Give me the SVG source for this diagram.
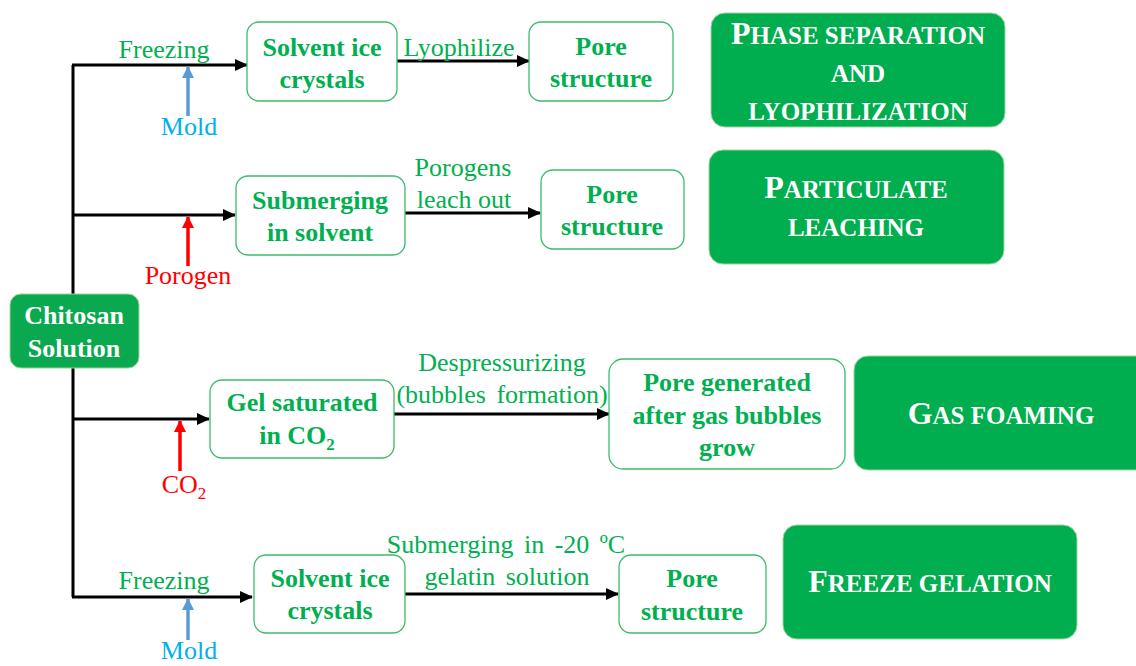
<svg xmlns="http://www.w3.org/2000/svg" width="1136" height="666" viewBox="0 0 1136 666">
<defs>
<marker id="ah" markerUnits="userSpaceOnUse" markerWidth="14" markerHeight="12" refX="12" refY="6" orient="auto"><path d="M0,0 L13,6 L0,12 z" fill="#000"/></marker>
<marker id="ahb" markerUnits="userSpaceOnUse" markerWidth="12" markerHeight="14" refX="11" refY="6" orient="auto"><path d="M0,0 L12,6 L0,12 z" fill="#5b9bd5"/></marker>
<marker id="ahr" markerUnits="userSpaceOnUse" markerWidth="12" markerHeight="14" refX="11" refY="6" orient="auto"><path d="M0,0 L12,6 L0,12 z" fill="#ff0000"/></marker>
</defs>
<style>
text{font-family:"Liberation Serif","Times New Roman",serif;}
.box{fill:#fff;stroke:#3dbb6c;stroke-width:1.3;}
.fbox{fill:#00ad4f;stroke:#9fd39a;stroke-width:1;}
.bt{font-size:26px;font-weight:bold;fill:#00b050;text-anchor:middle;}
.wt{font-size:26px;font-weight:bold;fill:#fff;text-anchor:middle;}
.sc{font-size:25px;font-weight:bold;fill:#fff;text-anchor:middle;}
.big{font-size:32px;}
.lab{font-size:26px;fill:#00b050;text-anchor:middle;}
.mold{font-size:26px;fill:#00b0f0;text-anchor:middle;}
.red{font-size:26px;fill:#ff0000;text-anchor:middle;}
.ws{word-spacing:4px;}
.ln{stroke:#000;stroke-width:3;fill:none;}
.ar{stroke:#000;stroke-width:3;fill:none;marker-end:url(#ah);}
.ab{stroke:#5b9bd5;stroke-width:3.5;fill:none;marker-end:url(#ahb);}
.arr{stroke:#ff0000;stroke-width:3.5;fill:none;marker-end:url(#ahr);}
</style>
<g id="connectors">
<path class="ln" d="M73,65 L73,597"/>
<path class="ar" d="M72,65 L247,65"/>
<path class="ar" d="M72,215 L235,215"/>
<path class="ar" d="M72,419 L209,419"/>
<path class="ar" d="M72,597 L252,597"/>
<path class="ar" d="M397,61 L529,61"/>
<path class="ar" d="M405,213 L540,213"/>
<path class="ar" d="M394,414 L609,414"/>
<path class="ar" d="M405,594 L618,594"/>
<path class="ab" d="M188,116 L188,67"/>
<path class="arr" d="M188,266 L188,217"/>
<path class="arr" d="M180,471 L180,421"/>
<path class="ab" d="M188,640 L188,599"/>
<text class="lab" x="164" y="58">Freezing</text>
<text class="mold" x="189" y="135">Mold</text>
<text class="lab" x="459" y="56">Lyophilize</text>
<text class="red" x="188" y="284">Porogen</text>
<text class="lab" x="463" y="176">Porogens</text>
<text class="lab" x="464" y="208">leach out</text>
<text class="red" x="184" y="493">CO<tspan font-size="17" dy="6">2</tspan></text>
<text class="lab" x="502" y="371">Despressurizing</text>
<text class="lab ws" x="502" y="403">(bubbles formation)</text>
<text class="lab" x="164" y="589">Freezing</text>
<text class="mold" x="189" y="659">Mold</text>
<text class="lab ws" x="506" y="553">Submerging in -20 ºC</text>
<text class="lab ws" x="507" y="585">gelatin solution</text>
</g>
<g id="chitosan">
<rect x="10" y="294" width="129" height="74" rx="11" fill="#0aa84f" stroke="#9fd39a" stroke-width="1"/>
<text class="wt" x="74" y="324">Chitosan</text>
<text class="wt" x="74" y="357">Solution</text>
</g>
<g id="r1-solvent">
<rect class="box" x="247" y="22" width="150" height="79" rx="12"/>
<text class="bt" x="322" y="56">Solvent ice</text>
<text class="bt" x="322" y="88">crystals</text>
</g>
<g id="r1-pore">
<rect class="box" x="529" y="22" width="144" height="79" rx="12"/>
<text class="bt" x="601" y="55">Pore</text>
<text class="bt" x="601" y="87">structure</text>
</g>
<g id="phase-sep">
<rect class="fbox" x="711" y="13" width="294" height="114" rx="14"/>
<text class="sc" x="858" y="44"><tspan class="big">P</tspan>HASE SEPARATION</text>
<text class="sc" x="858" y="82">AND</text>
<text class="sc" x="858" y="120">LYOPHILIZATION</text>
</g>
<g id="r2-submerging">
<rect class="box" x="236" y="176" width="169" height="79" rx="12"/>
<text class="bt" x="320" y="209">Submerging</text>
<text class="bt" x="320" y="241">in solvent</text>
</g>
<g id="r2-pore">
<rect class="box" x="541" y="170" width="143" height="79" rx="12"/>
<text class="bt" x="612" y="203">Pore</text>
<text class="bt" x="612" y="235">structure</text>
</g>
<g id="particulate">
<rect class="fbox" x="709" y="150" width="295" height="114" rx="14"/>
<text class="sc" x="856" y="198"><tspan class="big">P</tspan>ARTICULATE</text>
<text class="sc" x="856" y="236">LEACHING</text>
</g>
<g id="r3-gel">
<rect class="box" x="210" y="380" width="184" height="78" rx="12"/>
<text class="bt" x="302" y="411">Gel saturated</text>
<text class="bt" x="297" y="444">in CO<tspan font-size="17" dy="6">2</tspan></text>
</g>
<g id="r3-pore">
<rect class="box" x="609" y="359" width="236" height="110" rx="14"/>
<text class="bt" x="727" y="391">Pore generated</text>
<text class="bt" x="727" y="424">after gas bubbles</text>
<text class="bt" x="727" y="456">grow</text>
</g>
<g id="gas-foaming">
<rect class="fbox" x="854" y="356" width="300" height="114" rx="14"/>
<text class="sc" x="1001" y="424"><tspan class="big">G</tspan>AS FOAMING</text>
</g>
<g id="r4-solvent">
<rect class="box" x="254" y="555" width="151" height="78" rx="12"/>
<text class="bt" x="330" y="587">Solvent ice</text>
<text class="bt" x="330" y="619">crystals</text>
</g>
<g id="r4-pore">
<rect class="box" x="619" y="555" width="147" height="78" rx="12"/>
<text class="bt" x="692" y="587">Pore</text>
<text class="bt" x="692" y="620">structure</text>
</g>
<g id="freeze-gelation">
<rect class="fbox" x="783" y="525" width="294" height="114" rx="14"/>
<text class="sc" x="930" y="592"><tspan class="big">F</tspan>REEZE GELATION</text>
</g>
</svg>
